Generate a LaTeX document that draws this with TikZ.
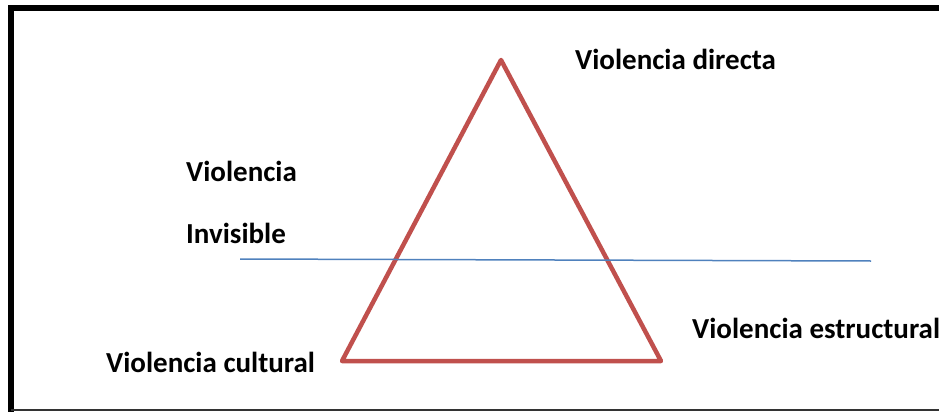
\documentclass[tikz,border=0pt]{standalone}
\usepackage{fontspec}
\setmainfont{Carlito}
\usepackage{tikz}
\usetikzlibrary{positioning,calc}
\definecolor{rojo}{RGB}{192,80,77}
\definecolor{azul}{RGB}{79,129,189}
\tikzset{
  etiqueta/.style={anchor=west,inner sep=0pt,font=\fontsize{29}{34}\selectfont\bfseries}
}
\begin{document}
\begin{tikzpicture}[x=1pt,y=-1pt]
\useasboundingbox (0,0) rectangle (939,412);
% marco
\draw[line width=6pt] (945,8) -- (11,8) -- (11,412);
\draw[line width=1.5pt,black!80] (11,410) -- (945,410);
% triangulo
\coordinate (cima) at (501,60);
\coordinate (izq) at (342,361);
\coordinate (der) at (661,361);
\draw[rojo,line width=4.5pt,line join=round] (cima) -- (izq) -- (der) -- cycle;
% linea de lo invisible
\coordinate (lineaA) at (240,259);
\coordinate (lineaB) at (871,261);
\draw[azul,line width=1.5pt] (lineaA) -- (lineaB);
% textos
\node[etiqueta] (directa) at (575,59) {Violencia directa};
\node[etiqueta] (violencia) at (186,171) {Violencia};
\node[etiqueta] (invisible) at (186,233) {Invisible};
\node[etiqueta] (estructural) at (692,328) {Violencia estructural};
\node[etiqueta] (cultural) at (106,362) {Violencia cultural};
\end{tikzpicture}
\end{document}
